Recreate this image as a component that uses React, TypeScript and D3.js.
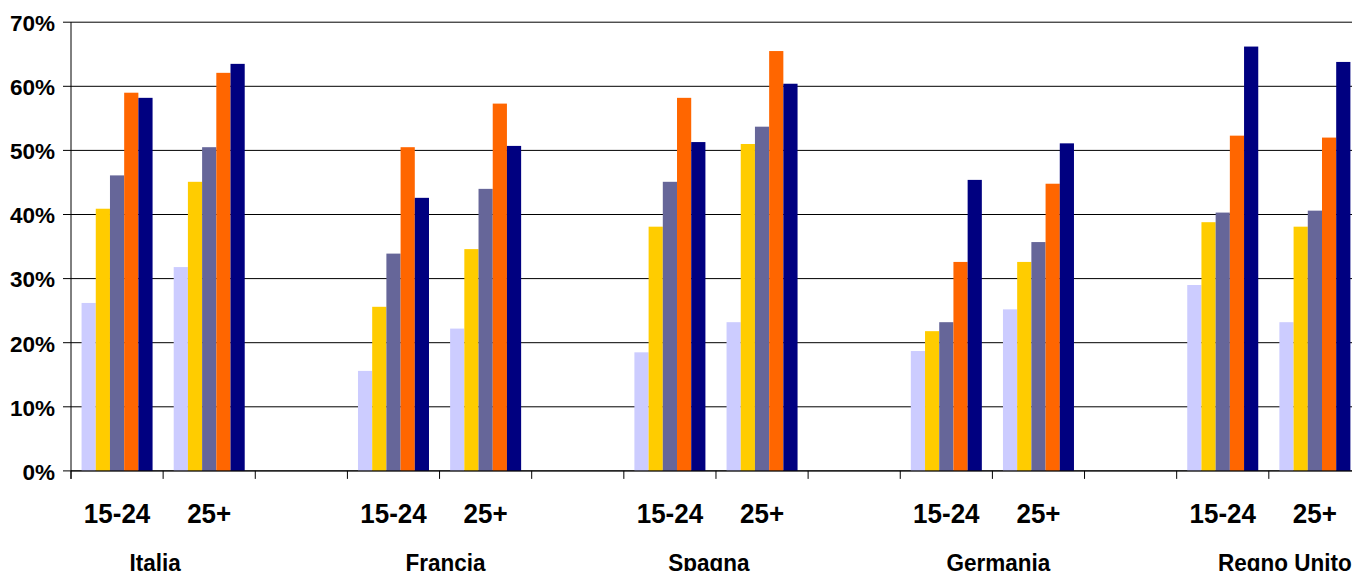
import React from "react";
import * as d3 from "d3";

const categories = ["15-24", "25+", "", "15-24", "25+", "", "15-24", "25+", "", "15-24", "25+", "", "15-24", "25+"];
const countries = ["Italia", "Francia", "Spagna", "Germania", "Regno Unito"];
const seriesNames = ["s1", "s2", "s3", "s4", "s5"];
const series1 = [26.2, 31.8, null, 15.6, 22.2, null, 18.5, 23.2, null, 18.7, 25.2, null, 29.0, 23.2];
const series2 = [40.9, 45.1, null, 25.6, 34.6, null, 38.1, 51.0, null, 21.8, 32.6, null, 38.8, 38.1];
const series3 = [46.1, 50.5, null, 33.9, 44.0, null, 45.1, 53.7, null, 23.2, 35.7, null, 40.3, 40.6];
const series4 = [59.0, 62.1, null, 50.5, 57.3, null, 58.2, 65.5, null, 32.6, 44.8, null, 52.3, 52.0];
const series5 = [58.2, 63.5, null, 42.6, 50.7, null, 51.3, 60.4, null, 45.4, 51.1, null, 66.2, 63.8];
const yTicks = [0, 10, 20, 30, 40, 50, 60, 70];

const seriesValues = [series1, series2, series3, series4, series5];
const colors = ["#CCCCFF", "#FFCC00", "#666699", "#FF6600", "#000080"];
const countryLabelOffsets = [-8, 6, -7, 6, 16];

const W = 1352;
const H = 571;
const left = 71;
const step = 92.14;
const top = 22.2;
const bottom = 470.9;
const FONT = "'Liberation Sans', Arial, Helvetica, sans-serif";

export default function App() {
  const x = d3
    .scaleBand<number>()
    .domain(d3.range(categories.length))
    .range([left, left + step * categories.length])
    .paddingInner(0)
    .paddingOuter(0);
  const inner = d3
    .scaleBand<string>()
    .domain(seriesNames)
    .range([0, x.bandwidth()])
    .paddingInner(0)
    .paddingOuter(0.744);
  const y = d3.scaleLinear().domain([0, 70]).range([bottom, top]);

  const tickXs = d3.range(categories.length + 1).map((i) => left + i * x.step());

  return (
    <svg
      width={W}
      height={H}
      style={{ position: "fixed", top: 0, left: 0, background: "#fff" }}
      fontFamily={FONT}
      fontWeight="bold"
    >
      <rect x={0} y={0} width={W} height={H} fill="#fff" />
      {/* gridlines */}
      {yTicks.map((t) => (
        <line key={"g" + t} x1={left - 8} x2={W + 20} y1={y(t)} y2={y(t)} stroke="#000" strokeWidth={1} />
      ))}
      {/* bars */}
      {seriesValues.map((vals, si) =>
        vals.map((v, ci) =>
          v == null ? null : (
            <rect
              key={`b${si}-${ci}`}
              x={(x(ci) as number) + (inner(seriesNames[si]) as number)}
              y={y(v)}
              width={inner.bandwidth()}
              height={y(0) - y(v)}
              fill={colors[si]}
            />
          )
        )
      )}
      {/* axis line */}
      <line x1={left} x2={W + 20} y1={y(0)} y2={y(0)} stroke="#000" strokeWidth={1} />
      <line x1={left} x2={left} y1={top} y2={bottom + 8} stroke="#000" strokeWidth={1} />
      {tickXs.map((tx, i) => (
        <line key={"t" + i} x1={tx} x2={tx} y1={bottom} y2={bottom + 8} stroke="#000" strokeWidth={1} />
      ))}
      {/* y labels */}
      {yTicks.map((t) => (
        <text key={"yl" + t} x={55} y={y(t) + 8.8} textAnchor="end" fontSize={22.5} fill="#000">
          {t + "%"}
        </text>
      ))}
      {/* category labels */}
      {categories.map((c, i) =>
        c ? (
          <text
            key={"c" + i}
            transform={`translate(${(x(i) as number) + x.bandwidth() / 2},523) scale(1,1.07)`}
            textAnchor="middle"
            fontSize={26}
            fill="#000"
          >
            {c}
          </text>
        ) : null
      )}
      {/* country labels */}
      {countries.map((c, i) => (
        <text
          key={"k" + i}
          transform={`translate(${(x(i * 3 + 1) as number) + countryLabelOffsets[i]},570.5) scale(1,1.07)`}
          textAnchor="middle"
          fontSize={22.5}
          fill="#000"
        >
          {c}
        </text>
      ))}
    </svg>
  );
}
